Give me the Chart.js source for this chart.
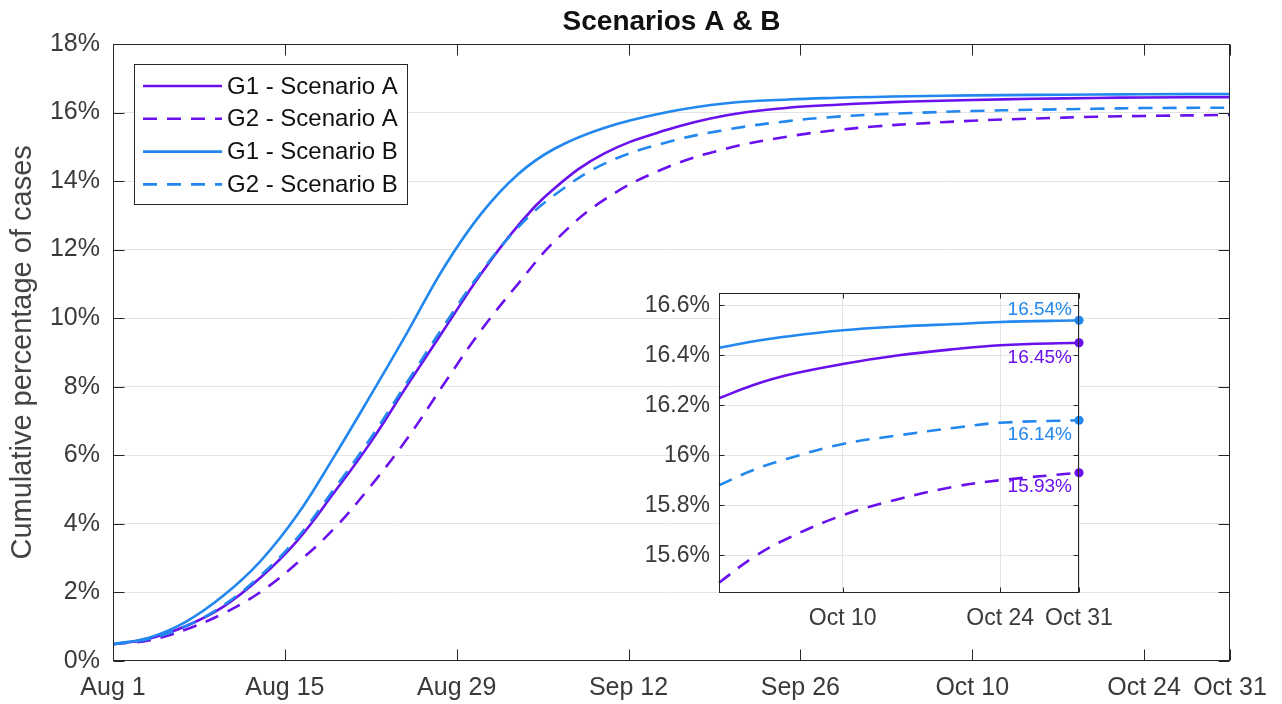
<!DOCTYPE html>
<html>
<head>
<meta charset="utf-8">
<title>Scenarios A &amp; B</title>
<script src="https://cdn.jsdelivr.net/npm/chart.js@4.4.1/dist/chart.umd.min.js"></script>
<style>
  html, body { margin: 0; padding: 0; background: #fff; }
  #wrap { position: relative; width: 1282px; height: 704px; overflow: hidden; }
  #mainChart { position: absolute; left: 0; top: 0; }
  #insetChart { position: absolute; left: 630px; top: 270px; }
</style>
</head>
<body>
<div id="wrap">
  <canvas id="mainChart" width="1282" height="704"></canvas>
  <canvas id="insetChart" width="500" height="370"></canvas>
</div>
<script>
// days counted from Aug 1
const days = [0, 3, 6, 9, 12, 15, 18, 21, 24, 27, 30, 33, 36, 40, 45, 50, 55, 59, 62, 65, 70, 75, 80, 84, 91];

// cumulative % of cases
const g1A = [0.48, 0.65, 1.02, 1.58, 2.42, 3.5, 4.9, 6.38, 8.05, 9.68, 11.3, 12.7, 13.8, 14.8, 15.48, 15.92, 16.14, 16.228, 16.28, 16.32, 16.365, 16.40, 16.425, 16.44, 16.45];
const g2A = [0.48, 0.6, 0.92, 1.38, 2.0, 2.85, 3.85, 5.1, 6.5, 8.1, 9.65, 11.0, 12.25, 13.45, 14.38, 14.95, 15.3, 15.49, 15.59, 15.665, 15.76, 15.825, 15.875, 15.90, 15.93];
const g1B = [0.48, 0.68, 1.15, 1.9, 2.9, 4.25, 5.95, 7.75, 9.6, 11.5, 13.05, 14.2, 14.95, 15.55, 16.0, 16.27, 16.38, 16.43, 16.455, 16.475, 16.50, 16.515, 16.525, 16.533, 16.54];
const g2B = [0.48, 0.64, 1.02, 1.62, 2.48, 3.58, 5.0, 6.5, 8.15, 9.8, 11.35, 12.65, 13.6, 14.5, 15.12, 15.5, 15.75, 15.88, 15.94, 15.985, 16.045, 16.08, 16.11, 16.13, 16.14];

const seriesNames = ['G1 - Scenario A', 'G2 - Scenario A', 'G1 - Scenario B', 'G2 - Scenario B'];

const xTickDays = [0, 14, 28, 42, 56, 70, 84, 91];
const xTickLabels = ['Aug 1', 'Aug 15', 'Aug 29', 'Sep 12', 'Sep 26', 'Oct 10', 'Oct 24', 'Oct 31'];
const yTicks = [0, 2, 4, 6, 8, 10, 12, 14, 16, 18];

// zoom box: Sep 29 .. Oct 31
const insetFrom = 59;
const insetXTicks = [70, 84, 91];
const insetXLabels = ['Oct 10', 'Oct 24', 'Oct 31'];
const insetYTicks = [15.6, 15.8, 16, 16.2, 16.4, 16.6];

const PURPLE = '#6a10ee';
const BLUE = '#2287ee';
const FONT = '"Liberation Sans", Arial, Helvetica, sans-serif';
const TXT = '#3a3a3a';

function pts(vals, from) {
    return days.map((d, i) => ({ x: d, y: vals[i] })).filter(p => p.x >= (from || 0));
}

function makeSets(from, extra) {
    const list = [
        { v: g1A, c: PURPLE, dash: [] },
        { v: g2A, c: PURPLE, dash: [14, 10] },
        { v: g1B, c: BLUE, dash: [] },
        { v: g2B, c: BLUE, dash: [14, 10] }
    ];
    return list.map((s, i) => Object.assign({
        label: seriesNames[i],
        data: pts(s.v, from),
        borderColor: s.c,
        backgroundColor: s.c,
        borderWidth: 2.6,
        borderDash: s.dash,
        pointRadius: 0,
        tension: 0.4,
        order: 3 - i
    }, extra));
}

// box round the plot with inward ticks on all four sides
const axesBox = {
    id: 'axesBox',
    afterDraw(chart, args, o) {
        const { ctx, chartArea: a, scales } = chart;
        const L = Math.round(a.left) + 0.5, R = Math.round(a.right) - 0.5;
        const T = Math.round(a.top) + 0.5, B = Math.round(a.bottom) - 0.5;
        ctx.save();
        ctx.strokeStyle = o.color;
        ctx.lineWidth = 1;
        ctx.beginPath();
        scales.x.ticks.forEach(t => {
            const px = Math.round(scales.x.getPixelForValue(t.value)) + 0.5;
            ctx.moveTo(px, B); ctx.lineTo(px, B - o.len);
            ctx.moveTo(px, T); ctx.lineTo(px, T + o.len);
        });
        scales.y.ticks.forEach(t => {
            const py = Math.round(scales.y.getPixelForValue(t.value)) + 0.5;
            ctx.moveTo(L, py); ctx.lineTo(L + o.len, py);
            ctx.moveTo(R, py); ctx.lineTo(R - o.len, py);
        });
        ctx.stroke();
        ctx.strokeRect(L, T, R - L, B - T);
        ctx.restore();
    }
};

// legend in the upper-left corner of the plot
const boxLegend = {
    id: 'boxLegend',
    afterDraw(chart, args, o) {
        const ctx = chart.ctx;
        ctx.save();
        ctx.fillStyle = '#fff';
        ctx.fillRect(o.x, o.y, o.w, o.h);
        ctx.strokeStyle = '#262626';
        ctx.lineWidth = 1;
        ctx.strokeRect(o.x + 0.5, o.y + 0.5, o.w, o.h);
        chart.data.datasets.forEach((ds, i) => {
            const cy = o.y + o.first + i * o.gap;
            ctx.strokeStyle = ds.borderColor;
            ctx.lineWidth = ds.borderWidth;
            ctx.setLineDash(ds.borderDash);
            ctx.beginPath();
            ctx.moveTo(o.x + 9, cy);
            ctx.lineTo(o.x + 88, cy);
            ctx.stroke();
            ctx.setLineDash([]);
            ctx.fillStyle = '#111';
            ctx.font = '24px ' + FONT;
            ctx.textBaseline = 'middle';
            ctx.fillText(ds.label, o.x + 93, cy + 1);
        });
        ctx.restore();
    }
};

const mainChart = new Chart(document.getElementById('mainChart'), {
    type: 'line',
    data: { datasets: makeSets(0) },
    options: {
        responsive: false,
        animation: false,
        layout: { padding: { top: 0, right: 52, bottom: 0, left: 0 } },
        plugins: {
            legend: { display: false },
            tooltip: { enabled: false },
            title: {
                display: true,
                text: 'Scenarios A & B',
                fullSize: false,
                color: '#111',
                font: { family: FONT, size: 28, weight: 'bold', lineHeight: 1.2 },
                padding: { top: 5, bottom: 5.4 }
            },
            axesBox: { len: 11, color: '#262626' },
            boxLegend: { x: 134, y: 64, w: 273, h: 140, first: 22, gap: 32.8 }
        },
        scales: {
            x: {
                type: 'linear',
                min: 0,
                max: 91,
                afterBuildTicks: s => { s.ticks = xTickDays.map(v => ({ value: v })); },
                afterFit: s => { s.height = 43.3; },
                grid: { display: false, drawTicks: false },
                border: { display: false },
                ticks: {
                    autoSkip: false,
                    maxRotation: 0,
                    padding: 12,
                    color: TXT,
                    font: { family: FONT, size: 25 },
                    callback: v => xTickLabels[xTickDays.indexOf(v)]
                }
            },
            y: {
                min: 0,
                max: 18,
                afterBuildTicks: s => { s.ticks = yTicks.map(v => ({ value: v })); },
                afterFit: s => { s.width = 113; },
                grid: { color: '#e4e4e4', drawTicks: false },
                border: { display: false },
                ticks: {
                    padding: 13,
                    color: TXT,
                    font: { family: FONT, size: 25 },
                    callback: v => v + '%'
                },
                title: {
                    display: true,
                    text: 'Cumulative percentage of cases',
                    color: '#444',
                    font: { family: FONT, size: 29 },
                    padding: { top: 6, bottom: 0 }
                }
            }
        }
    },
    plugins: [axesBox, boxLegend]
});

// white plot area for the zoom box
const whiteArea = {
    id: 'whiteArea',
    beforeDraw(chart) {
        const a = chart.chartArea;
        chart.ctx.save();
        chart.ctx.fillStyle = '#fff';
        chart.ctx.fillRect(a.left, a.top, a.right - a.left, a.bottom - a.top);
        chart.ctx.restore();
    }
};

// final values written next to the end markers
const endLabels = {
    id: 'endLabels',
    afterDatasetsDraw(chart, args, o) {
        const ctx = chart.ctx;
        ctx.save();
        ctx.font = '19px ' + FONT;
        ctx.textAlign = 'right';
        ctx.textBaseline = 'alphabetic';
        chart.data.datasets.forEach((ds, i) => {
            const meta = chart.getDatasetMeta(i);
            const el = meta.data[meta.data.length - 1];
            const val = ds.data[ds.data.length - 1].y;
            ctx.fillStyle = ds.borderColor;
            ctx.fillText(val.toFixed(2) + '%', el.x - 7, el.y + o.dy[i]);
        });
        ctx.restore();
    }
};

const insetChart = new Chart(document.getElementById('insetChart'), {
    type: 'line',
    data: {
        datasets: makeSets(insetFrom, {
            clip: false,
            pointRadius: ctx => (ctx.dataIndex === ctx.dataset.data.length - 1 ? 4.6 : 0),
            pointBorderWidth: 0
        })
    },
    options: {
        responsive: false,
        animation: false,
        layout: { padding: { top: 20, right: 51, bottom: 0, left: 0 } },
        plugins: {
            legend: { display: false },
            tooltip: { enabled: false },
            axesBox: { len: 5, color: '#262626' },
            endLabels: { dy: [20, 19, -5, 20] }
        },
        scales: {
            x: {
                type: 'linear',
                min: insetFrom,
                max: 91,
                afterBuildTicks: s => { s.ticks = insetXTicks.map(v => ({ value: v })); },
                afterFit: s => { s.height = 47.3; },
                grid: { color: '#e4e4e4', drawTicks: false },
                border: { display: false },
                ticks: {
                    autoSkip: false,
                    maxRotation: 0,
                    padding: 12,
                    color: TXT,
                    font: { family: FONT, size: 23 },
                    callback: v => insetXLabels[insetXTicks.indexOf(v)]
                }
            },
            y: {
                min: 15.45,
                max: 16.65,
                afterBuildTicks: s => { s.ticks = insetYTicks.map(v => ({ value: v })); },
                afterFit: s => { s.width = 89; },
                grid: { color: '#e4e4e4', drawTicks: false },
                border: { display: false },
                ticks: {
                    padding: 9,
                    color: TXT,
                    font: { family: FONT, size: 23 },
                    callback: v => v + '%'
                }
            }
        }
    },
    plugins: [whiteArea, axesBox, endLabels]
});
</script>
</body>
</html>
